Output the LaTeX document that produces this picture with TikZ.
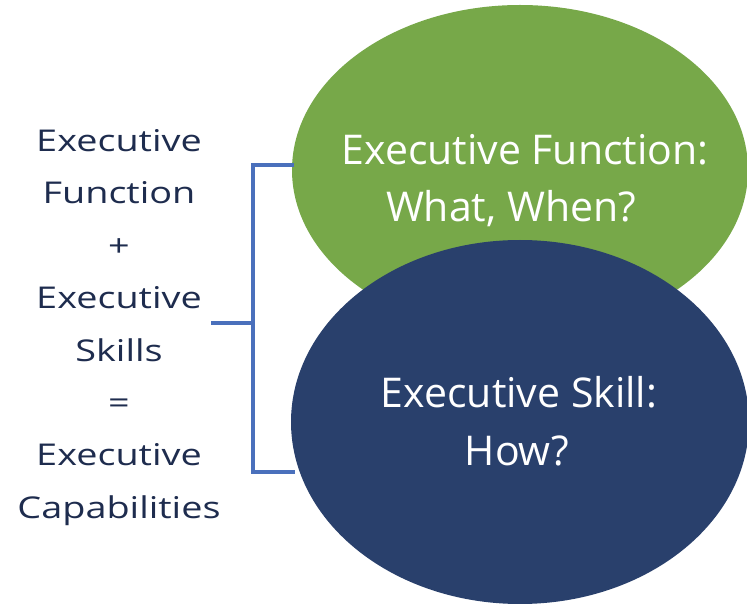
\documentclass[tikz,border=0pt]{standalone}
\usepackage{fontspec}
\setmainfont{Open Sans}
\usetikzlibrary{shapes.geometric}
\definecolor{leafgreen}{RGB}{119,168,73}
\definecolor{navyfill}{RGB}{41,64,108}
\definecolor{bracketblue}{RGB}{74,112,188}
\definecolor{inkblue}{RGB}{30,44,78}
\begin{document}
\begin{tikzpicture}[x=1bp,y=-1bp,
  blob/.style={ellipse, draw=none, inner sep=0pt},
  sumtext/.style={text=inkblue, font=\fontsize{30bp}{52.4bp}\selectfont, align=center, inner sep=0pt},
  bubbletext/.style={text=white, font=\fontsize{41bp}{48bp}\selectfont, inner sep=0pt, anchor=base},
  brace/.style={draw=bracketblue, line width=3.5bp}]
\useasboundingbox (0,0) rectangle (747,604);
\fill[white] (0,0) rectangle (747,604);
% the two overlapping ovals, the lower one on top
\begin{scope}
  \clip (0,0) rectangle (747,604);
  \node[blob, fill=leafgreen, minimum width=456bp, minimum height=330bp] (fn) at (520,170) {};
  \node[blob, fill=navyfill, minimum width=458bp, minimum height=364bp] (sk) at (520,422) {};
\end{scope}
% labels inside the ovals
\node[bubbletext] (fnA) at (525,165) {Executive Function:};
\node[bubbletext] (fnB) at (511,222) {What, When?};
\node[bubbletext] (skA) at (519,407) {Executive Skill:};
\node[bubbletext] (skB) at (517,465) {How?};
% the equation on the left, set in a widened face
\begin{scope}[shift={(119,327.4)}, xscale=1.26]
  \node[sumtext, transform shape] (sum) at (0,0) {Executive\\Function\\+\\Executive\\Skills\\=\\Executive\\Capabilities};
\end{scope}
% bracket joining the equation to both ovals
\coordinate (spineTop) at (253,165);
\coordinate (spineBot) at (253,472);
\coordinate (spineMid) at (253,323);
\coordinate (tickTop) at (294,165);
\coordinate (tickBot) at (295,472);
\coordinate (tickMid) at (211,323);
\draw[brace] (tickTop) -- (spineTop) -- (spineBot) -- (tickBot);
\draw[brace] (tickMid) -- (spineMid);
\end{tikzpicture}
\end{document}
